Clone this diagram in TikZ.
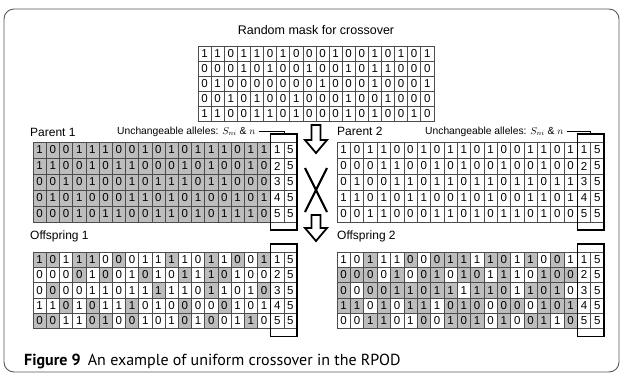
\documentclass[tikz,border=0pt]{standalone}
\usepackage{fontspec}
\setmainfont{Liberation Sans}
\newfontfamily\capfont{PT Sans}
\usetikzlibrary{fit}
\definecolor{cellgray}{gray}{0.74}
\newcommand\setrow[2]{\expandafter\def\csname#1\endcsname{#2}}
% random mask
\setrow{mk0}{{1,1,0,1,1,0,1,0,0,0,1,0,0,1,0,1,0,1}}
\setrow{mk1}{{0,0,0,1,0,1,0,0,1,0,0,1,0,1,1,0,0,0}}
\setrow{mk2}{{0,1,0,0,0,0,0,0,0,1,0,0,0,1,0,0,0,1}}
\setrow{mk3}{{0,0,1,0,1,0,0,1,0,0,0,1,0,0,1,0,0,0}}
\setrow{mk4}{{1,1,0,0,1,1,0,1,0,0,0,1,0,1,0,0,1,0}}
% parent 1
\setrow{pa0}{{1,0,0,1,1,1,0,0,1,0,1,0,1,1,1,0,1,1}}
\setrow{pa1}{{1,1,0,0,1,0,1,1,0,0,0,1,0,1,0,0,1,0}}
\setrow{pa2}{{0,0,1,0,1,0,0,1,0,1,1,1,0,1,1,0,0,0}}
\setrow{pa3}{{0,1,0,1,0,0,0,1,1,0,1,0,1,0,0,1,0,1}}
\setrow{pa4}{{0,0,0,1,0,1,1,0,0,1,1,0,1,0,1,1,1,0}}
% parent 2
\setrow{pb0}{{1,0,1,1,0,0,1,0,1,1,0,1,0,0,1,1,0,1}}
\setrow{pb1}{{0,0,0,1,1,0,0,1,0,1,0,0,1,0,0,1,0,0}}
\setrow{pb2}{{0,1,0,0,1,1,0,1,1,0,1,1,0,1,1,0,1,1}}
\setrow{pb3}{{1,1,0,1,0,1,1,0,0,1,0,1,0,0,1,1,0,1}}
\setrow{pb4}{{0,0,1,1,0,0,0,1,1,0,1,0,1,1,0,1,0,0}}
% offspring (as printed)
\setrow{oa0}{{1,0,1,1,1,0,0,0,1,1,1,1,0,1,1,0,0,1}}
\setrow{oa1}{{0,0,0,0,1,0,0,1,0,1,0,1,1,1,0,1,0,0}}
\setrow{oa2}{{0,0,0,0,1,1,0,1,1,1,1,1,0,1,1,0,1,0}}
\setrow{oa3}{{1,1,0,1,0,1,1,1,0,1,0,0,0,0,0,1,0,1}}
\setrow{oa4}{{0,0,1,1,0,1,0,0,1,0,1,0,1,0,0,1,1,0}}
% #1 name #2 x0 #3 y0 #4 cw #5 ch #6 values #7 shading mode #8 extra columns
\newcommand\bitgrid[8]{%
\foreach \r in {0,...,4}{%
  \foreach \c in {0,...,17}{%
    \expandafter\let\expandafter\vals\csname #6\r\endcsname
    \expandafter\let\expandafter\msk\csname mk\r\endcsname
    \pgfmathtruncatemacro\v{\vals[\c]}%
    \pgfmathtruncatemacro\m{\msk[\c]}%
    \pgfmathtruncatemacro\g{#7==1 ? 1 : (#7==2 ? \m : (#7==3 ? 1-\m : 0))}%
    \ifnum\g=1 \def\fc{cellgray}\else\def\fc{white}\fi
    \node[cell, fill=\fc, minimum width=#4pt, minimum height=#5pt] (#1-\r-\c) at ({#2+#4*\c},{#3+#5*\r}) {\v};
  }
  \ifnum#8=1
    \pgfmathtruncatemacro\rr{\r+1}%
    \node[cell, minimum width=#4pt, minimum height=#5pt] (#1-\r-18) at ({#2+#4*18},{#3+#5*\r}) {\rr};
    \node[cell, minimum width=#4pt, minimum height=#5pt] (#1-\r-19) at ({#2+#4*19},{#3+#5*\r}) {5};
  \fi
}}
\begin{document}
\begin{tikzpicture}[x=1pt,y=-1pt,
  cell/.style={draw=black!70, line width=0.5pt, fill=white, inner sep=0pt, outer sep=0pt,
    anchor=north west, font=\fontsize{11.5}{12}\selectfont},
  keybox/.style={draw=black, line width=1.5pt, inner xsep=0pt, inner ysep=8pt},
  lab/.style={anchor=west, inner sep=0pt, font=\fontsize{12}{14}\selectfont},
  note/.style={anchor=west, inner sep=3pt, font=\fontsize{10.3}{12}\selectfont},
  leader/.style={draw=black, line width=0.6pt},
  harrow/.style={draw=black, line width=1.8pt, line join=miter, fill=white},
  xline/.style={draw=black, line width=2.2pt},
  frame/.style={draw=black!65, line width=0.9pt, rounded corners=10pt}]
\useasboundingbox (0,0) rectangle (624,375);
\draw[frame] (4,9) rectangle (619,372);
% title and mask
\node[font=\fontsize{12.5}{14}\selectfont, inner sep=0pt] (title) at (316,30.5) {Random mask for crossover};
\bitgrid{mk}{198}{46.5}{13.1}{15}{mk}{0}{0}
% parents
\bitgrid{pa}{33}{142}{13.2}{16}{pa}{1}{1}
\bitgrid{pb}{337}{142}{13.35}{16}{pb}{0}{1}
% offspring
\bitgrid{oa}{33}{252}{13.2}{15.3}{oa}{2}{1}
\bitgrid{ob}{337}{252}{13.35}{15.3}{oa}{3}{1}
% key boxes
\node[keybox, fit=(pa-0-18)(pa-4-19)] (pa-box) {};
\node[keybox, fit=(pb-0-18)(pb-4-19)] (pb-box) {};
\node[keybox, fit=(oa-0-18)(oa-4-19)] (oa-box) {};
\node[keybox, fit=(ob-0-18)(ob-4-19)] (ob-box) {};
% labels
\node[lab] (pa-lab) at (30,132) {Parent 1};
\node[lab] (pb-lab) at (337,131) {Parent 2};
\node[lab] (oa-lab) at (30,236) {Offspring 1};
\node[lab] (ob-lab) at (337,236) {Offspring 2};
\node[note] (pa-note) at (114,131.5) {Unchangeable alleles: $S_{ni}$ \& $n$};
\node[note] (pb-note) at (422,131.5) {Unchangeable alleles: $S_{ni}$ \& $n$};
\draw[leader] (pa-note.east) -| (pa-box.north);
\draw[leader] (pb-note.east) -| (pb-box.north);
% operators
\coordinate (ar1) at (316,125);
\coordinate (ar2) at (316,215);
\draw[harrow] (311.5,125) -- (320.5,125) -- (320.5,140) -- (327,140) -- (316,153) -- (305,140) -- (311.5,140) -- cycle;
\draw[xline] (305,168) -- (327,212);
\draw[xline] (327,168) -- (305,212);
\draw[harrow] (311.5,215) -- (320.5,215) -- (320.5,228) -- (327,228) -- (316,241) -- (305,228) -- (311.5,228) -- cycle;
% caption
\node[anchor=west, inner sep=0pt, font=\capfont\fontsize{16}{18}\selectfont] (cap) at (24,361)
  {\textbf{Figure 9}\hspace{0.45em}An example of uniform crossover in the RPOD};
\end{tikzpicture}
\end{document}
